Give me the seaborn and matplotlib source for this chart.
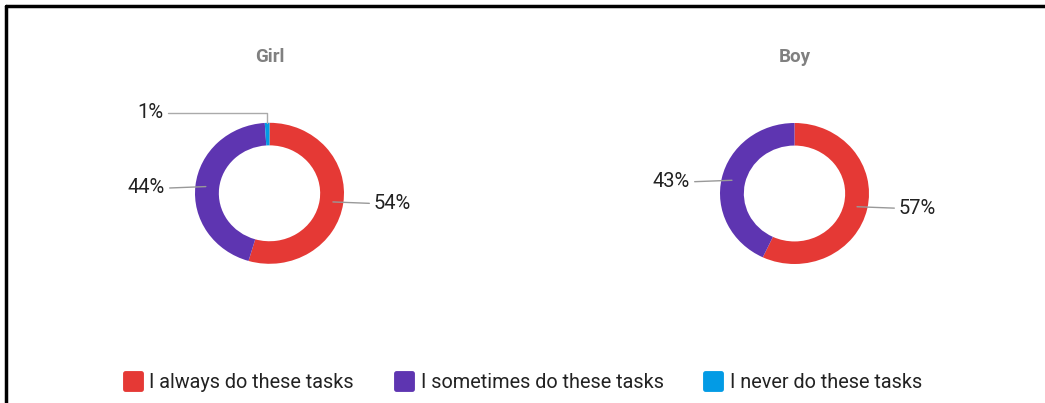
import numpy as np
import matplotlib
matplotlib.use("Agg")
import matplotlib.pyplot as plt
from matplotlib.lines import Line2D
from matplotlib.markers import MarkerStyle
import seaborn as sns

# data
groups = ["Girl", "Boy"]
answers = ["I always do these tasks", "I sometimes do these tasks", "I never do these tasks"]
girl_pct = [54, 44, 1]
boy_pct = [57, 43, 0]
shares = [girl_pct, boy_pct]
colors = ["#E53935", "#5E35B1", "#039BE5"]

sns.set_theme(style="white")
plt.rcParams["font.family"] = ["Roboto", "DejaVu Sans"]

W, H = 1045, 403
fig = plt.figure(figsize=(W / 100, H / 100), dpi=100)

# frame lines (top and left) like the screenshot
fig.add_artist(Line2D([6 / W, 6 / W], [0, 1 - 6 / H], color="black", lw=2.5))
fig.add_artist(Line2D([6 / W, 1], [1 - 6 / H, 1 - 6 / H], color="black", lw=2.5))

centers = [(269.5, 209.7), (794.5, 209.5)]
RX, RY = 74.5, 70.5   # the screenshot is slightly stretched sideways
half = 150.0          # half size of the axes in px

for grp, vals, (cx, cy) in zip(groups, shares, centers):
    ax = fig.add_axes([(cx - half) / W, (cy - half) / H, 2 * half / W, 2 * half / H])
    vals = np.array(vals, dtype=float)
    wedges, _ = ax.pie(vals, colors=colors, startangle=90, counterclock=False,
                       radius=1.0, wedgeprops=dict(width=0.32, linewidth=0))
    ax.set_aspect("auto")
    ax.set_xlim(-half / RX, half / RX)
    ax.set_ylim(-half / RY, half / RY)
    ax.axis("off")
    ax.text(0, 1 + 66 / RY, grp, ha="center", va="center", fontsize=13.5,
            fontweight="bold", color="#808080")

    for w, v in zip(wedges, vals):
        if v <= 0:
            continue
        ang = np.deg2rad((w.theta1 + w.theta2) / 2)
        ca, sa = np.cos(ang), np.sin(ang)
        side = 1 if ca >= 0 else -1
        txt = f"{v:.0f}%"
        if abs(sa) > 0.95:
            # tiny slice near the top: elbow leader
            x0, y0 = ca * 1.0, sa * 1.0
            ytop = 1.14
            ax.plot([x0, x0, -1.36], [y0, ytop, ytop], color="#aaaaaa", lw=1,
                    clip_on=False)
            ax.text(-1.42, ytop, txt, ha="right", va="center", fontsize=14.5,
                    color="#222222")
        else:
            x0, y0 = ca * 0.86, sa * 0.86
            x1 = side * 1.34
            y1 = y0 - 0.02
            ax.plot([x0, x1], [y0, y1], color="#999999", lw=1, clip_on=False)
            ax.text(x1 + side * 0.06, y1, txt, ha="left" if side > 0 else "right",
                    va="center", fontsize=14.5, color="#222222")

sq = MarkerStyle("s", joinstyle="round")
handles = [Line2D([], [], linestyle="none", marker=sq, markersize=11.5,
                  markerfacecolor=c, markeredgecolor=c, markeredgewidth=3.5)
           for c in colors]
fig.legend(handles, answers, loc="center", bbox_to_anchor=(0.5, 21 / H),
           ncol=3, frameon=False, fontsize=14.3, handlelength=1.0,
           handletextpad=0.35, columnspacing=2.0, labelcolor="#222222")

fig.savefig("out.png", dpi=100, facecolor="white")
